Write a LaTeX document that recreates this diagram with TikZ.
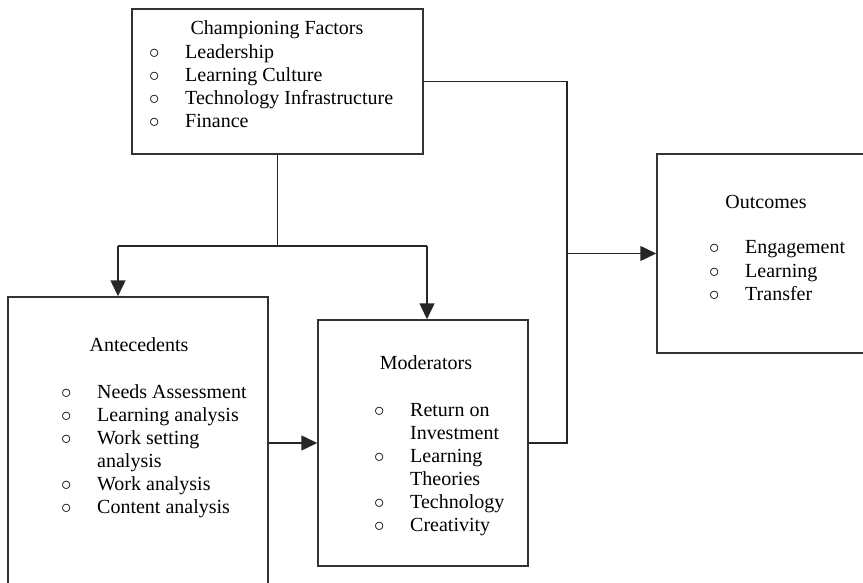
\documentclass[tikz,border=0pt]{standalone}
\usepackage{fontspec}
\setmainfont{Liberation Serif}
\usetikzlibrary{arrows.meta}

\newcommand{\bul}{\makebox[36pt][l]{$\circ$}}
\newcommand{\nobul}{\hspace*{36pt}}

\begin{document}
\begin{tikzpicture}[x=1pt,y=-1pt,
  box/.style={draw=black!80, line width=1.5pt, inner sep=0pt},
  txt/.style={font=\fontsize{20}{23}\selectfont, inner sep=0pt, anchor=base west},
  ttl/.style={font=\fontsize{20}{23}\selectfont, inner sep=0pt, anchor=base},
  link/.style={draw=black!85, line width=1.5pt},
  >={Triangle[length=16pt,width=15pt]}]

\useasboundingbox (0,0) rectangle (863,583);

% Boxes
\node [box, minimum width=291pt, minimum height=145pt] (champ) at (277.5,81.5) {};
\node [box, minimum width=260pt, minimum height=303pt] (ante) at (138,448.5) {};
\node [box, minimum width=210pt, minimum height=246pt] (mods) at (423,443) {};
\node [box, minimum width=213pt, minimum height=199pt] (outc) at (763.5,253.5) {};

% Championing factors
\node [ttl] (champ-title) at (277,35) {Championing Factors};
\node [txt] (champ-1) at (149,59) {\bul Leadership};
\node [txt] (champ-2) at (149,82) {\bul Learning Culture};
\node [txt] (champ-3) at (149,105) {\bul Technology Infrastructure};
\node [txt] (champ-4) at (149,128) {\bul Finance};

% Antecedents
\node [ttl] (ante-title) at (139,351) {Antecedents};
\node [txt] (ante-1) at (61,398) {\bul Needs Assessment};
\node [txt] (ante-2) at (61,421) {\bul Learning analysis};
\node [txt] (ante-3) at (61,444) {\bul Work setting};
\node [txt] (ante-3b) at (61,467) {\nobul analysis};
\node [txt] (ante-4) at (61,490) {\bul Work analysis};
\node [txt] (ante-5) at (61,513) {\bul Content analysis};

% Moderators
\node [ttl] (mods-title) at (426,369) {Moderators};
\node [txt] (mods-1) at (374,416) {\bul Return on};
\node [txt] (mods-1b) at (374,439) {\nobul Investment};
\node [txt] (mods-2) at (374,462) {\bul Learning};
\node [txt] (mods-2b) at (374,485) {\nobul Theories};
\node [txt] (mods-3) at (374,508) {\bul Technology};
\node [txt] (mods-4) at (374,531) {\bul Creativity};

% Outcomes
\node [ttl] (outc-title) at (766,208) {Outcomes};
\node [txt] (outc-1) at (709,254) {\bul Engagement};
\node [txt] (outc-2) at (709,277) {\bul Learning};
\node [txt] (outc-3) at (709,300) {\bul Transfer};

% Split below the championing factors
\coordinate (jl) at (118,246);
\coordinate (jr) at (427,246);
\draw [link] (champ.south) -- (champ.south |- jl);
\draw [link] (jl) -- (jr);
\draw [link, ->] (jl) -- (jl |- ante.north);
\draw [link, ->] (jr) -- (jr |- mods.north);

% Antecedents to moderators
\draw [link, ->] (ante.east |- mods.west) -- (mods.west);

% Bus to the outcomes
\coordinate (bustop) at (567,81.5);
\coordinate (busbot) at (567,443);
\draw [link] (champ.east) -- (bustop) -- (busbot) -- (mods.east);
\draw [link, ->] (bustop |- outc.west) -- (outc.west);

\end{tikzpicture}
\end{document}
